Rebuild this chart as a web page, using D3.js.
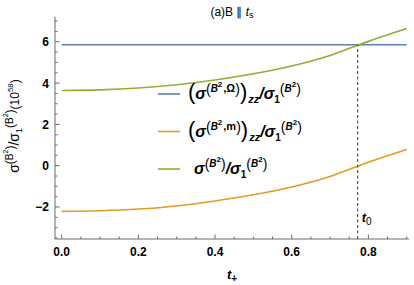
<!DOCTYPE html>
<html>
<head>
<meta charset="utf-8">
<script src="https://cdn.jsdelivr.net/npm/d3@7/dist/d3.min.js"></script>
<style>
  body { margin: 0; background: #fff; }
  text { font-family: "Liberation Sans", Arial, sans-serif; }
</style>
</head>
<body>
<div id="chart"></div>
<script>
// values (units of 10^58)
const tVals     = [0, 0.1, 0.2, 0.3, 0.4, 0.5, 0.6, 0.7, 0.8, 0.9];
const omegaVals = [5.86, 5.86, 5.86, 5.86, 5.86, 5.86, 5.86, 5.86, 5.86, 5.86];
const massVals  = [-2.21, -2.18, -2.10, -1.95, -1.71, -1.41, -1.03, -0.52, 0.17, 0.79];
const totalVals = [3.64, 3.67, 3.76, 3.92, 4.15, 4.45, 4.83, 5.34, 6.02, 6.64];
const xTicks = [0, 0.2, 0.4, 0.6, 0.8];
const yTicks = [-2, 0, 2, 4, 6];
const t0 = 0.772;

const W = 414, H = 285;
const colors = { omega: "#5e81b5", mass: "#e19c24", total: "#8fb032" };
const axisColor = "#6b6b6b";

const svg = d3.select("#chart").append("svg")
  .attr("width", W).attr("height", H);

const x = d3.scaleLinear().domain([-0.0175, 0.906]).range([55, 409]);
const y = d3.scaleLinear().domain([-3.55, 7.215]).range([239, 16.7]);

// rich text: parts {t, size, up, bold, italic, gap}
function rich(g, px, py, parts, anchor) {
  const text = g.append("text")
    .attr("x", px).attr("y", py)
    .attr("text-anchor", anchor || "start")
    .attr("fill", "#000");
  let prev = 0;
  parts.forEach(p => {
    const up = p.up || 0;
    text.append("tspan")
      .attr("dx", p.gap || 0)
      .attr("dy", prev - up)
      .style("font-size", (p.size || 15) + "px")
      .style("font-weight", p.bold ? "bold" : "normal")
      .style("font-style", p.italic ? "italic" : "normal")
      .text(p.t);
    prev = up;
  });
  return text;
}

// axes
const xAxis = svg.append("g").attr("transform", `translate(0,${y.range()[0]})`);
xAxis.append("line")
  .attr("x1", x.range()[0]).attr("x2", x.range()[1])
  .attr("stroke", axisColor);
const xMinor = d3.range(0, 0.906, 0.05);
xAxis.selectAll(".xt").data(xMinor).join("line")
  .attr("x1", d => x(d)).attr("x2", d => x(d))
  .attr("y1", 0)
  .attr("y2", d => (Math.round(d * 20) % 4 === 0) ? -4.5 : -2.5)
  .attr("stroke", axisColor);
xAxis.selectAll(".xl").data(xTicks).join("text")
  .attr("x", d => x(d)).attr("y", 17)
  .attr("text-anchor", "middle")
  .style("font-size", "12px").style("font-weight", "bold")
  .text(d => d.toFixed(1));

const yAxis = svg.append("g").attr("transform", `translate(${x.range()[0]},0)`);
yAxis.append("line")
  .attr("y1", y.range()[0]).attr("y2", y.range()[1])
  .attr("stroke", axisColor);
const yMinor = d3.range(-3.5, 7.01, 0.5);
yAxis.selectAll(".yt").data(yMinor).join("line")
  .attr("y1", d => y(d)).attr("y2", d => y(d))
  .attr("x1", 0)
  .attr("x2", d => (Math.abs(d % 2) < 1e-9) ? 4.5 : 2.5)
  .attr("stroke", axisColor);
yAxis.selectAll(".yl").data(yTicks).join("text")
  .attr("x", -6).attr("y", d => y(d) + 4.5)
  .attr("text-anchor", "end")
  .style("font-size", "12px").style("font-weight", "bold")
  .text(d => d < 0 ? "\u2212" + Math.abs(d) : d);

// curves
const line = d3.line().x(d => x(d[0])).y(d => y(d[1])).curve(d3.curveMonotoneX);
[[omegaVals, colors.omega], [massVals, colors.mass], [totalVals, colors.total]]
  .forEach(([vals, c]) => {
    svg.append("path")
      .datum(tVals.map((t, i) => [t, vals[i]]))
      .attr("d", line)
      .attr("fill", "none")
      .attr("stroke", c)
      .attr("stroke-width", 1.6);
  });

// t0 marker
svg.append("line")
  .attr("x1", x(t0)).attr("x2", x(t0))
  .attr("y1", y.range()[0]).attr("y2", y(omegaVals[0]))
  .attr("stroke", "#555").attr("stroke-width", 1.2)
  .attr("stroke-dasharray", "3,2.5");
rich(svg, x(t0) + 4, 222, [
  { t: "t", size: 13, bold: true, italic: true },
  { t: "0", size: 10, up: -3 }
]);

// legend
const sig = { t: "\u03c3", size: 16, bold: true, italic: true };
function supParts(tag) {
  const p = [
    { t: "(", size: 14, up: 5 },
    { t: "B", size: 10, up: 7, bold: true, italic: true },
    { t: "2", size: 8, up: 12, bold: true },
  ];
  if (tag) p.push({ t: "," + tag, size: 11, up: 7, bold: true, gap: 1 });
  p.push({ t: ")", size: 14, up: 5 });
  return p;
}
const denom = [
  { t: "/", size: 16, bold: true, italic: true },
  { t: "\u03c3", size: 16, bold: true, italic: true },
  { t: "1", size: 10, up: -4, bold: true },
].concat(supParts(null));
const zz = { t: "zz", size: 11, up: -4, bold: true, italic: true, gap: 1 };

const legendItems = [
  { c: colors.omega, y: 94,
    parts: [{ t: "(", size: 22 }, sig].concat(supParts("\u03a9"), [{ t: ")", size: 22 }, zz], denom) },
  { c: colors.mass, y: 131.5,
    parts: [{ t: "(", size: 22 }, sig].concat(supParts("m"), [{ t: ")", size: 22 }, zz], denom) },
  { c: colors.total, y: 169,
    parts: [sig].concat(supParts(null), denom) },
];
const lg = svg.append("g");
legendItems.forEach((d, i) => {
  lg.append("line")
    .attr("x1", 158).attr("x2", 180)
    .attr("y1", d.y).attr("y2", d.y)
    .attr("stroke", d.c).attr("stroke-width", 1.6);
  rich(lg, i === 2 ? 194 : 188, d.y + 5, d.parts);
});

// title
rich(svg, 232, 16, [
  { t: "(a)B \u2225 ", size: 12 },
  { t: "t", size: 12, italic: true },
  { t: "s", size: 9, up: -2 }
], "middle");

// axis titles
rich(svg, 232, 279, [
  { t: "t", size: 13, bold: true, italic: true },
  { t: "+", size: 10, up: -3, bold: true }
], "middle");

const yl = svg.append("g").attr("transform", "translate(19,126) rotate(-90)");
rich(yl, 0, 0, [
  { t: "\u03c3", size: 14 },
  { t: "(", size: 12, up: 5 },
  { t: "B", size: 10, up: 6 },
  { t: "2", size: 7, up: 11 },
  { t: ")", size: 12, up: 5 },
  { t: "/", size: 14 },
  { t: "\u03c3", size: 14 },
  { t: "1", size: 9, up: -3 },
  { t: "(", size: 12, up: 5 },
  { t: "B", size: 10, up: 6 },
  { t: "2", size: 7, up: 11 },
  { t: ")", size: 12, up: 5 },
  { t: "(10", size: 12 },
  { t: "58", size: 8, up: 6 },
  { t: ")", size: 12 }
], "middle");
</script>
</body>
</html>
